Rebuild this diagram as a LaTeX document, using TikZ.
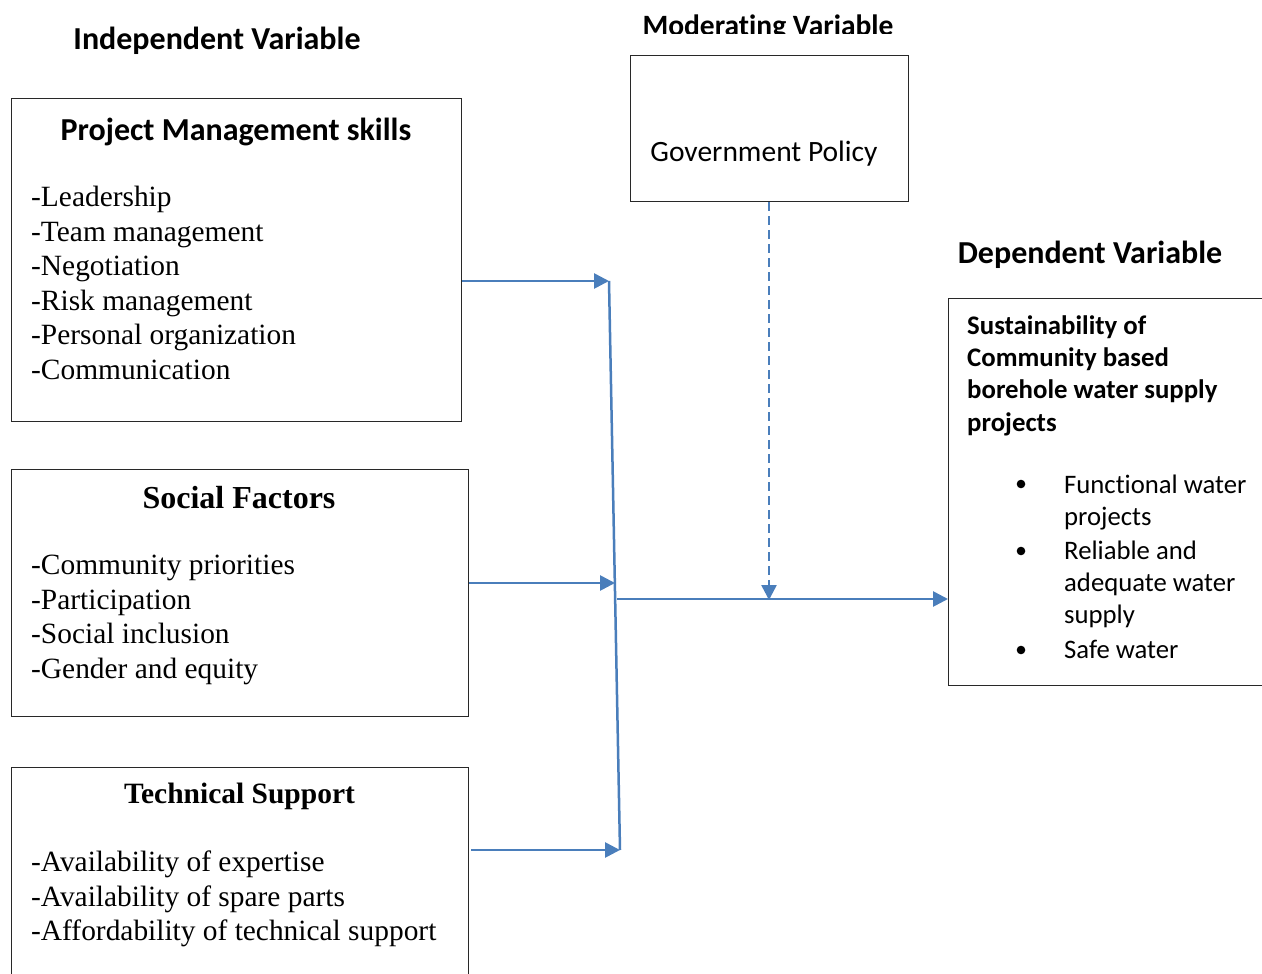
\documentclass[tikz,border=0pt]{standalone}
\usepackage{fontspec}
\setmainfont{Liberation Serif}
\newfontfamily\calfont[Ligatures=NoCommon]{Carlito}
\usetikzlibrary{arrows.meta}
\definecolor{arrowblue}{RGB}{74,126,187}
\definecolor{boxline}{RGB}{40,40,40}
\tikzset{
  frame/.style={draw=boxline, line width=1.3pt, anchor=north west, inner sep=0pt},
  heading/.style={font=\calfont\bfseries\fontsize{32}{36}\selectfont, anchor=base, inner sep=0pt},
  sertitle/.style={font=\bfseries\fontsize{32}{36}\selectfont, anchor=base, inner sep=0pt},
  item/.style={font=\fontsize{29.4}{34}\selectfont, anchor=base west, inner sep=0pt},
  deptitle/.style={font=\calfont\bfseries\fontsize{26.8}{30}\selectfont, anchor=base west, inner sep=0pt},
  depitem/.style={font=\calfont\fontsize{26.7}{30}\selectfont, anchor=base west, inner sep=0pt},
  flow/.style={draw=arrowblue, line width=2.7pt, -{Triangle[length=15pt,width=15pt]}},
  plainflow/.style={draw=arrowblue, line width=2.5pt},
  modflow/.style={draw=arrowblue, line width=2.5pt, dash pattern=on 9pt off 5pt, -{Triangle[length=15pt,width=15pt]}}
}
\begin{document}
\begin{tikzpicture}[x=1pt,y=-1pt]
\clip (0,0) rectangle (1262,974);
\fill[white] (0,0) rectangle (1262,974);

% headings
\node[heading] (indep) at (217,50) {Independent Variable};
\begin{scope}
\clip (600,0) rectangle (920,33.5);
\node[heading, font=\calfont\bfseries\fontsize{29.5}{34}\selectfont] (moder) at (768,35.5) {Moderating Variable};
\end{scope}
\node[heading] (dep) at (1090,263) {Dependent Variable};

% project management box
\node[frame, minimum width=450pt, minimum height=323pt] (pm) at (11,98) {};
\node[heading] (pmtitle) at (236,140) {Project Management skills};
\foreach \t [count=\i] in {-Leadership,-Team management,-Negotiation,-Risk management,-Personal organization,-Communication}
  \node[item] (pm\i) at ({31},{206.5+34.6*(\i-1)}) {\t};

% social factors box
\node[frame, minimum width=457pt, minimum height=247pt] (sf) at (11,469) {};
\node[sertitle] (sftitle) at (239,508) {Social Factors};
\foreach \t [count=\i] in {-Community priorities,-Participation,-Social inclusion,-Gender and equity}
  \node[item] (sf\i) at ({31},{574.5+34.6*(\i-1)}) {\t};

% technical support box
\node[frame, minimum width=457pt, minimum height=260pt] (ts) at (11,767) {};
\node[sertitle, font=\bfseries\fontsize{29.5}{34}\selectfont] (tstitle) at (239.5,803) {Technical Support};
\foreach \t [count=\i] in {-Availability of expertise,-Availability of spare parts,-Affordability of technical support}
  \node[item] (ts\i) at ({31},{871.5+34.6*(\i-1)}) {\t};

% government policy box
\node[frame, minimum width=278pt, minimum height=146pt] (gov) at (630,55) {};
\node[font=\calfont\fontsize{29.5}{32}\selectfont, anchor=base, inner sep=0pt] (govtext) at (764,161) {Government Policy};

% dependent box
\node[frame, minimum width=340pt, minimum height=387pt] (dv) at (948,298) {};
\foreach \t [count=\i] in {Sustainability of,Community based,borehole water supply,projects}
  \node[deptitle] (dt\i) at ({967},{334+32.4*(\i-1)}) {\t};
\node[depitem] (b1a) at (1064,493) {Functional water};
\node[depitem] (b1b) at (1064,525) {projects};
\node[depitem] (b2a) at (1064,559) {Reliable and};
\node[depitem] (b2b) at (1064,591) {adequate water};
\node[depitem] (b2c) at (1064,623) {supply};
\node[depitem] (b3a) at (1064,658) {Safe water};
\foreach \y [count=\i] in {484,551,650}
  \fill (1021,\y) circle (4.3pt) coordinate (bul\i);

% connectors
\coordinate (jtop) at (609,281);
\coordinate (jmid) at (615,583);
\coordinate (jbot) at (620,850);
\coordinate (jout) at (617,599);
\coordinate (jmod) at (769,599);
\draw[plainflow] (jtop) -- (jbot);
\draw[flow] (pm.east |- jtop) -- (jtop);
\draw[flow] (sf.east |- jmid) -- (jmid);
\draw[flow] ([xshift=2pt]ts.east |- jbot) -- (jbot);
\draw[flow] (jout) -- (dv.west |- jout);
\draw[modflow] (gov.south -| jmod) -- ([yshift=-1pt]jmod);
\end{tikzpicture}
\end{document}
